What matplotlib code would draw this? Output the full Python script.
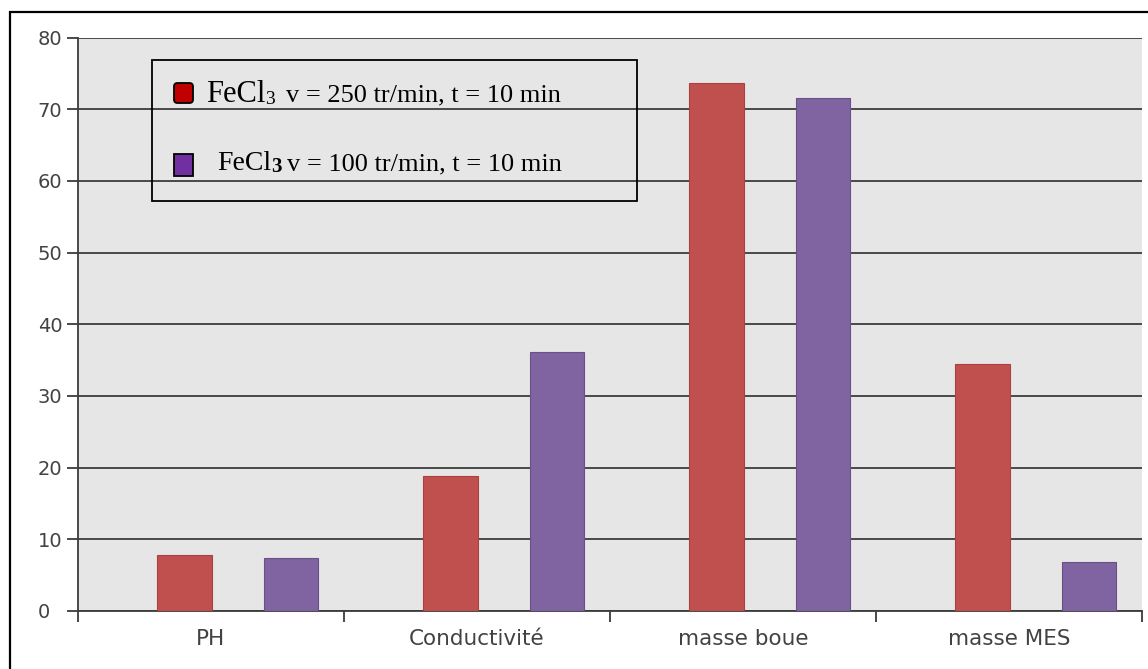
import numpy as np
import matplotlib
matplotlib.use("Agg")
import matplotlib.pyplot as plt
from matplotlib.patches import Rectangle, FancyBboxPatch

categories = ['PH', 'Conductivité', 'masse boue', 'masse MES']
v250 = [7.8, 18.8, 73.7, 34.4]
v100 = [7.4, 36.1, 71.6, 6.8]
yticks = np.arange(0, 90, 10)
label_250 = ' v = 250 tr/min, t = 10 min'
label_100 = ' v = 100 tr/min, t = 10 min'

W, H = 1148, 669
fig = plt.figure(figsize=(W / 100, H / 100), dpi=100)
fig.patch.set_facecolor('white')

ax = fig.add_axes([78 / W, 1 - 611 / H, (1142 - 78) / W, (611 - 37.5) / H])
ax.set_facecolor('#e6e6e6')
x = np.arange(len(categories))
ax.bar(x + 0.40, v250, width=0.205, color='#c0504d', edgecolor='#a8423f', lw=0.8, zorder=3)
ax.bar(x + 0.80, v100, width=0.205, color='#8064a2', edgecolor='#6a5088', lw=0.8, zorder=3)
ax.set_xlim(0, len(categories))
ax.set_ylim(0, 80)
ax.set_yticks(yticks)

# boundary ticks (major) and category labels (minor)
ax.set_xticks(np.arange(len(categories) + 1))
ax.set_xticklabels([])
ax.set_xticks(x + 0.5, minor=True)
ax.set_xticklabels(categories, minor=True)
ax.tick_params(axis='x', which='major', length=8, width=1.3, color='#3c3c3c', direction='out')
ax.tick_params(axis='x', which='minor', length=0, pad=13, labelsize=15.5, labelcolor='#424242')
# y labels are left aligned in the original (the "0" sits under the "1" of "10")
ax.tick_params(axis='y', length=8, width=1.3, color='#3c3c3c', pad=21, labelsize=14, labelcolor='#424242')
for lab in ax.get_yticklabels():
    lab.set_horizontalalignment('left')

ax.set_axisbelow(True)
ax.yaxis.grid(True, color='#3c3c3c', lw=1.3)
for s in ['top', 'right']:
    ax.spines[s].set_visible(False)
for s in ['left', 'bottom']:
    ax.spines[s].set_color('#3c3c3c')
    ax.spines[s].set_linewidth(1.3)

# outer frame
fig.add_artist(Rectangle((10 / W, -0.1), 1.2, 1.1 - 12 / H, transform=fig.transFigure,
                         fill=False, ec='black', lw=1.6, clip_on=False))

# hand-made legend box (pixel coords -> inches)
tr = fig.dpi_scale_trans
def inch(px, py):
    return px / 100, (H - py) / 100

fig.add_artist(Rectangle(inch(152, 201), 4.85, 1.41, transform=tr,
                         fill=False, ec='black', lw=1.3))
fig.add_artist(FancyBboxPatch(inch(174, 103), 0.19, 0.20, transform=tr,
                              boxstyle='round,pad=0,rounding_size=0.035',
                              fc='#c00000', ec='black', lw=1.3))
fig.add_artist(Rectangle(inch(174, 176), 0.19, 0.22, transform=tr,
                         fc='#7030a0', ec='black', lw=1.3))

renderer = fig.canvas.get_renderer()
serif = 'Liberation Serif'

def legend_line(x0, base, fe_size, sub_size, sub_bold, sub_drop, text, gap):
    t1 = fig.text(*inch(x0, base), 'FeCl', transform=tr, family=serif,
                  fontsize=fe_size, va='baseline', ha='left')
    x1 = t1.get_window_extent(renderer).x1
    t2 = fig.text(x1 / 100, (H - base - sub_drop) / 100, '3', transform=tr, family=serif,
                  fontsize=sub_size, fontweight='bold' if sub_bold else 'normal',
                  va='baseline', ha='left')
    x2 = t2.get_window_extent(renderer).x1
    fig.text((x2 + gap) / 100, (H - base) / 100, text.strip(), transform=tr, family=serif,
             fontsize=19, va='baseline', ha='left')

legend_line(206, 101.5, 22, 14, False, 2.5, label_250, 11)
legend_line(217, 170, 20, 15, True, 2.5, label_100, 5)

fig.savefig('out.png', dpi=100)
